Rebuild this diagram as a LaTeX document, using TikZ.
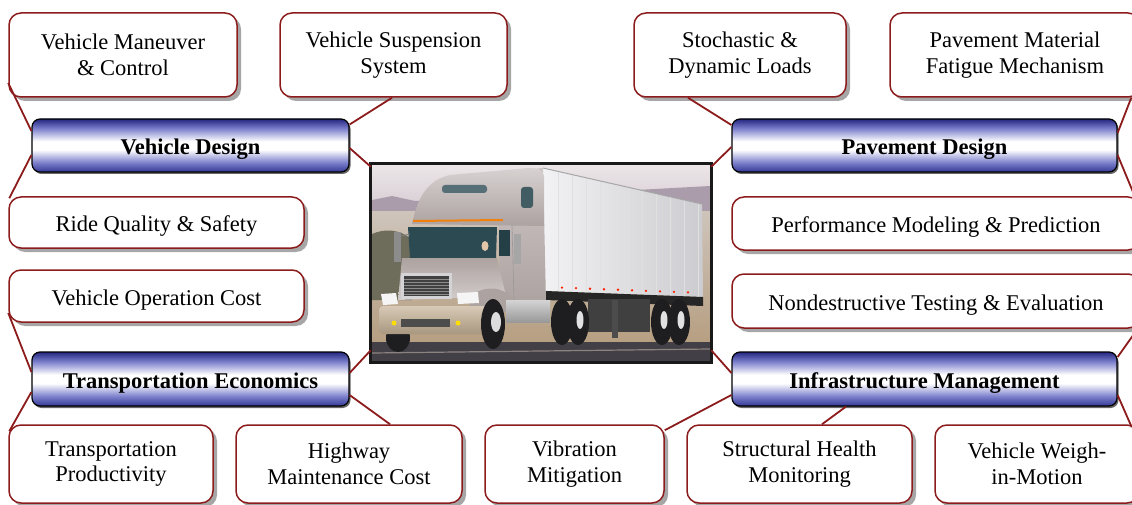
\documentclass[tikz,border=0pt]{standalone}
\usepackage{fontspec}
\setmainfont{Liberation Serif}
\usetikzlibrary{calc,shadows}
\definecolor{boxred}{RGB}{140,28,28}
\definecolor{hb0}{RGB}{36,38,128}
\definecolor{hb1}{RGB}{52,56,150}
\definecolor{hb2}{RGB}{124,128,204}
\definecolor{skyT}{RGB}{236,230,232}
\definecolor{skyB}{RGB}{214,204,210}
\definecolor{hill}{RGB}{170,156,170}
\definecolor{fieldT}{RGB}{206,196,186}
\definecolor{fieldB}{RGB}{182,158,128}
\definecolor{trees}{RGB}{110,108,90}
\definecolor{road}{RGB}{66,64,70}
\definecolor{roadline}{RGB}{140,130,128}
\definecolor{trailerL}{RGB}{242,242,244}
\definecolor{trailerR}{RGB}{204,204,208}
\definecolor{cabT}{RGB}{206,198,198}
\definecolor{cabB}{RGB}{172,162,160}
\definecolor{glass}{RGB}{44,74,82}
\definecolor{chrome}{RGB}{212,212,214}
\definecolor{bumper}{RGB}{198,178,150}
\definecolor{tire}{RGB}{30,30,32}
\pgfdeclareverticalshading{hdr}{100bp}{color(0bp)=(hb1); color(25bp)=(hb1); color(34bp)=(hb2); color(46bp)=(white); color(54bp)=(white); color(66bp)=(hb2); color(75bp)=(hb0); color(100bp)=(hb0)}
\newcommand\boxfont{\fontsize{22.5}{25.5}\selectfont}
\tikzset{
  wbox/.style={draw=boxred, line width=1.5pt, fill=white, rounded corners=12pt,
    align=center, inner sep=0pt, font=\boxfont,
    drop shadow={shadow xshift=4pt, shadow yshift=-4pt, fill=black!35, opacity=1}},
  hdrbox/.style={draw=black, line width=1.2pt, rounded corners=8pt, shading=hdr,
    align=center, inner sep=0pt, font=\boxfont\bfseries,
    minimum height=53pt, oneline,
    drop shadow={shadow xshift=1.5pt, shadow yshift=-2pt, fill=black!60, opacity=1}},
  oneline/.style={text height=18pt, text depth=0pt},
  conn/.style={draw=boxred, line width=1.8pt}
}
\begin{document}
\begin{tikzpicture}[x=1pt,y=-1pt]
\useasboundingbox (0,0) rectangle (1132,505);
% ---- white boxes
\node[wbox, minimum width=228pt, minimum height=84pt] (vmc) at (123,55) {Vehicle Maneuver\\\& Control};
\node[wbox, minimum width=227pt, minimum height=84pt] (vss) at (393.5,55) {Vehicle Suspension\\System};
\node[wbox, minimum width=212pt, minimum height=84pt] (sdl) at (740,55) {Stochastic \&\\Dynamic Loads};
\node[wbox, minimum width=250pt, minimum height=84pt] (pmf) at (1015,55) {Pavement Material\\Fatigue Mechanism};
\node[wbox, oneline, minimum width=295pt, minimum height=51pt] (rqs) at (156.5,222.5) {Ride Quality \& Safety};
\node[wbox, oneline, minimum width=408pt, minimum height=53pt] (pmp) at (936,223.5) {Performance Modeling \& Prediction};
\node[wbox, oneline, minimum width=295pt, minimum height=52pt] (voc) at (156.5,296) {Vehicle Operation Cost};
\node[wbox, oneline, minimum width=408pt, minimum height=54pt] (nte) at (936,301) {Nondestructive Testing \& Evaluation};
\node[wbox, minimum width=204pt, minimum height=78pt] (tp) at (111,464) {Transportation\\Productivity};
\node[wbox, minimum width=226pt, minimum height=78pt] (hmc) at (349,464) {Highway\\Maintenance Cost};
\node[wbox, minimum width=179pt, minimum height=78pt] (vmit) at (574.5,464) {Vibration\\Mitigation};
\node[wbox, minimum width=225pt, minimum height=78pt] (shm) at (799.5,464) {Structural Health\\Monitoring};
\node[wbox, minimum width=204pt, minimum height=78pt] (vwm) at (1037,464) {Vehicle Weigh-\\in-Motion};
% ---- headers
\node[hdrbox, minimum width=317pt] (vd) at (190.5,145.5) {Vehicle Design};
\node[hdrbox, minimum width=385pt] (pd) at (924.5,145.5) {Pavement Design};
\node[hdrbox, minimum width=317pt, minimum height=54pt] (te) at (190.5,379) {Transportation Economics};
\node[hdrbox, minimum width=385pt, minimum height=54pt] (im) at (924.5,379) {Infrastructure Management};
% ---- photo
\node[inner sep=0pt, minimum width=340pt, minimum height=198pt] (photo) at (541,263) {};
\begin{scope}
\clip (372,165) rectangle (710,361);
\shade[top color=skyT, bottom color=skyB] (372,165) rectangle (710,210);
\fill[hill] (372,200) -- (392,196) -- (415,201) -- (450,199) -- (520,194) -- (600,192) -- (710,186) -- (710,240) -- (372,240) -- cycle;
\shade[top color=fieldT, bottom color=fieldB] (372,212) rectangle (710,345);
\fill[trees] (372,234) .. controls (385,228) and (400,230) .. (410,238) -- (412,300) -- (372,300) -- cycle;
\fill[road] (372,342) rectangle (710,362);
\draw[roadline, line width=1.2pt] (372,353) -- (710,349);
% trailer
\shade[left color=trailerL, right color=trailerR] (543,168) -- (702,204) -- (703,297) -- (545,291) -- cycle;
\foreach \x in {558,572,...,698} \draw[black!12, line width=0.5pt] (\x,{168+(\x-543)*36/159}) -- (\x,{291+(\x-545)*6/158});
\draw[black!35, line width=1pt] (543,168) -- (702,204);
\foreach \x in {562,576,...,700} \fill[red!75!orange] (\x,{287+(\x-545)*6/158}) circle (1.3);
\fill[black!85] (545,291) -- (703,297) -- (703,306) -- (545,300) -- cycle;
\fill[black!75] (588,299) rectangle (650,332);
\fill[black!70] (612,300) rectangle (618,338);
\fill[tire] (662,322) ellipse (11 and 23);
\fill[tire] (679,322) ellipse (11 and 23);
\fill[chrome!70] (664,320) ellipse (3.5 and 9);
\fill[chrome!70] (681,320) ellipse (3.5 and 9);
% cab
\shade[top color=cabT, bottom color=cabB] (498,172) -- (543,168) -- (546,302) -- (500,306) -- cycle;
\shade[top color=cabT!80!white, bottom color=cabB] (412,224) .. controls (418,196) and (428,180) .. (450,175) -- (528,168) .. controls (538,168) and (543,170) .. (544,176) -- (544,226) -- cycle;
\draw[orange!80!brown, line width=2pt] (413,221) -- (503,220);
\fill[glass!80, rounded corners=3pt] (442,185) rectangle (487,193);
\fill[glass!90, rounded corners=3pt] (521,187) rectangle (533,208);
\fill[glass] (408,227) -- (497,227) -- (496,258) -- (410,258) -- cycle;
\fill[brown!45] (485,246) ellipse (3.5 and 5);
\fill[glass!85!black] (499,230) rectangle (510,256);
\draw[black!40, line width=0.6pt] (512,225) -- (514,300);
\fill[black!45] (394,232) rectangle (401,262);
\fill[black!35] (514,234) rectangle (521,264);
\draw[black!50, line width=0.8pt] (401,236) -- (410,234);
\shade[top color=cabB, bottom color=cabT!90!white] (402,258) -- (497,258) -- (506,296) -- (398,300) -- cycle;
\fill[cabB] (470,298) .. controls (480,285) and (505,285) .. (512,300) -- (512,312) -- (470,312) -- cycle;
\fill[chrome] (401,273) rectangle (452,299);
\fill[black!75] (404,276) rectangle (449,296);
\foreach \y in {279,282,...,294} \draw[black!45, line width=0.6pt] (404,\y) -- (449,\y);
\fill[white!92!gray] (381,294) -- (396,293) -- (398,304) -- (383,305) -- cycle;
\fill[white!92!gray] (457,293) -- (478,292) -- (479,303) -- (458,304) -- cycle;
\fill[tire] (398,338) ellipse (12 and 14);
\shade[top color=bumper!70!white, bottom color=bumper!85!black, rounded corners=4pt] (379,306) rectangle (488,334);
\fill[black!70] (401,319) rectangle (450,327);
\fill[yellow!80!orange] (394,323) circle (2.5);
\fill[yellow!80!orange] (458,323) circle (2.5);
\fill[tire] (493,324) ellipse (12 and 25);
\fill[chrome!80] (496,322) ellipse (5 and 10);
\shade[top color=chrome, bottom color=black!40] (506,300) rectangle (550,322);
\fill[tire] (562,322) ellipse (11 and 23);
\fill[tire] (578,322) ellipse (11 and 23);
\fill[chrome!70] (580,320) ellipse (3.5 and 9);
\end{scope}
\draw[line width=3pt, black!90] (photo.south west) rectangle (photo.north east);
% ---- connectors
\draw[conn] ($(vmc.west)+(0,28)$) -- ($(vd.west)+(0,-14.5)$);
\draw[conn] ($(vd.west)+(0,9.5)$) -- ($(rqs.north west)+(1,2)$);
\draw[conn] ($(vd.east)+(0,-21)$) -- ($(vss.south)+(-1.5,0)$);
\draw[conn] ($(vd.east)+(0,2.5)$) -- ($(photo.north west)+(0,3)$);
\draw[conn] ($(sdl.south)+(-52,0)$) -- ($(pd.west)+(0,-20.5)$);
\draw[conn] ($(photo.north east)+(0,3)$) -- ($(pd.west)+(0,1.5)$);
\draw[conn] ($(pd.east)+(0,-12.5)$) -- ($(pmf.south east)+(-9.5,0)$);
\draw[conn] ($(pd.east)+(0,9.5)$) -- ($(pmp.north east)+(-6,0)$);
\draw[conn] ($(voc.west)+(0,17)$) -- ($(te.west)+(0,-7)$);
\draw[conn] ($(te.west)+(0,13)$) -- ($(tp.north west)+(1,7)$);
\draw[conn] ($(te.east)+(0,-6)$) -- ($(photo.south west)+(0,-12)$);
\draw[conn] ($(te.east)+(0,16)$) -- ($(hmc.north)+(41,0)$);
\draw[conn] ($(im.west)+(0,-6)$) -- ($(photo.south east)+(0,-12)$);
\draw[conn] ($(im.west)+(0,16)$) -- ($(vmit.north east)+(0,6)$);
\draw[conn] ($(im.south)+(-78.5,0)$) -- ($(shm.north)+(22.5,0)$);
\draw[conn] ($(im.east)+(0,-22)$) -- ($(nte.south east)+(-3,0)$);
\draw[conn] ($(im.east)+(0,16)$) -- ($(vwm.north east)+(-8,3)$);
\end{tikzpicture}
\end{document}
